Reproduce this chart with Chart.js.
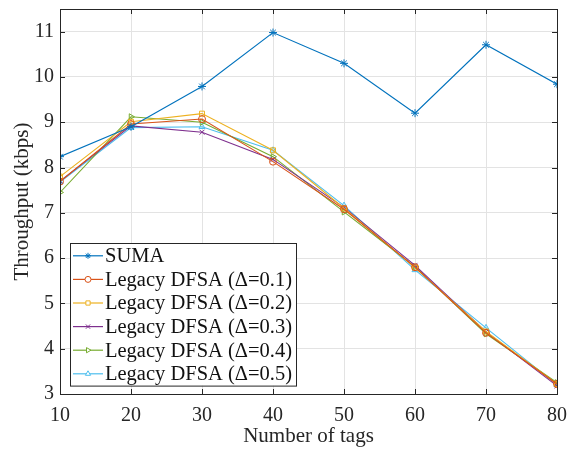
<!DOCTYPE html>
<html>
<head>
<meta charset="utf-8">
<script src="https://cdn.jsdelivr.net/npm/chart.js@4"></script>
<style>
  html, body { margin: 0; padding: 0; background: #fff; }
  #wrap { width: 569px; height: 449px; }
</style>
</head>
<body>
<div id="wrap"><canvas id="chart" width="569" height="449"></canvas></div>
<script>
// data
const tags = [10, 20, 30, 40, 50, 60, 70, 80];
const suma   = [8.24, 8.90, 9.79, 10.98, 10.30, 9.20, 10.71, 9.84];
const dfsa01 = [7.69, 8.96, 9.07, 8.13, 7.08, 5.80, 4.35, 3.22];
const dfsa02 = [7.80, 9.01, 9.19, 8.38, 7.10, 5.79, 4.38, 3.22];
const dfsa03 = [7.70, 8.92, 8.78, 8.18, 7.12, 5.84, 4.37, 3.18];
const dfsa04 = [7.45, 9.12, 9.00, 8.24, 7.02, 5.81, 4.33, 3.25];
const dfsa05 = [7.68, 8.88, 8.90, 8.38, 7.16, 5.74, 4.46, 3.20];
const yTicks = [3, 4, 5, 6, 7, 8, 9, 10, 11];
const xTicks = [10, 20, 30, 40, 50, 60, 70, 80];

const seriesNames = ["SUMA", "Legacy DFSA (\u0394=0.1)", "Legacy DFSA (\u0394=0.2)",
  "Legacy DFSA (\u0394=0.3)", "Legacy DFSA (\u0394=0.4)", "Legacy DFSA (\u0394=0.5)"];
const seriesValues = [suma, dfsa01, dfsa02, dfsa03, dfsa04, dfsa05];
const seriesColors = ["#0072BD", "#D95319", "#EDB120", "#7E2F8E", "#77AC30", "#4DBEEE"];
const seriesMarkers = ["star", "circle", "rect", "crossRot", "triangle", "triangle"];
const markerRotation = [0, 0, 0, 0, 90, 0];

const serif = "'Liberation Serif', 'Times New Roman', serif";

const datasets = seriesValues.map((vals, i) => ({
  label: seriesNames[i],
  data: vals.map((v, j) => ({ x: tags[j], y: v })),
  borderColor: seriesColors[i],
  backgroundColor: "rgba(0,0,0,0)",
  pointBackgroundColor: i === 0 ? seriesColors[i] : "rgba(0,0,0,0)",
  pointBorderColor: seriesColors[i],
  pointStyle: seriesMarkers[i],
  pointRotation: markerRotation[i],
  pointRadius: i === 0 ? 4 : 3.5,
  pointBorderWidth: 1,
  borderWidth: 1.1,
  tension: 0
}));

// box + inside ticks, like a matlab axes
const frame = {
  id: "frame",
  afterDatasetsDraw(chart) {
    const { ctx, chartArea: a, scales } = chart;
    ctx.save();
    ctx.strokeStyle = "#262626";
    ctx.lineWidth = 1;
    ctx.strokeRect(a.left + 0.5, a.top + 0.5, a.right - a.left, a.bottom - a.top);
    ctx.beginPath();
    xTicks.forEach(t => {
      const x = Math.round(scales.x.getPixelForValue(t)) + 0.5;
      ctx.moveTo(x, a.bottom); ctx.lineTo(x, a.bottom - 5);
      ctx.moveTo(x, a.top); ctx.lineTo(x, a.top + 5);
    });
    yTicks.forEach(t => {
      const y = Math.round(scales.y.getPixelForValue(t)) + 0.5;
      ctx.moveTo(a.left, y); ctx.lineTo(a.left + 5, y);
      ctx.moveTo(a.right, y); ctx.lineTo(a.right - 5, y);
    });
    ctx.stroke();
    ctx.restore();
  }
};

// legend box in the lower left corner of the plot
const insideLegend = {
  id: "insideLegend",
  afterDraw(chart) {
    const { ctx, chartArea: a } = chart;
    const x0 = a.left + 10, y0 = 243, w = 226, rowH = 23.6;
    const h = rowH * seriesNames.length + 1;
    ctx.save();
    ctx.fillStyle = "#fff";
    ctx.fillRect(x0, y0, w, h);
    ctx.strokeStyle = "#262626";
    ctx.lineWidth = 1;
    ctx.strokeRect(x0 + 0.5, y0 + 0.5, w, h);
    ctx.font = "20.5px " + serif;
    ctx.textBaseline = "middle";
    seriesNames.forEach((name, i) => {
      const cy = y0 + rowH * (i + 0.5) + 1;
      ctx.strokeStyle = seriesColors[i];
      ctx.lineWidth = 1.2;
      ctx.beginPath();
      ctx.moveTo(x0 + 3, cy); ctx.lineTo(x0 + 33, cy);
      ctx.stroke();
      ctx.lineWidth = 1;
      ctx.fillStyle = i === 0 ? seriesColors[i] : "#fff";
      Chart.helpers.drawPoint(ctx, {
        pointStyle: seriesMarkers[i],
        rotation: markerRotation[i],
        radius: 3,
        borderWidth: 1
      }, x0 + 18, cy);
      ctx.fillStyle = "#111";
      ctx.fillText(name, x0 + 35, cy + 1);
    });
    ctx.restore();
  }
};

new Chart(document.getElementById("chart"), {
  type: "line",
  data: { datasets: datasets },
  options: {
    responsive: false,
    animation: false,
    layout: { padding: { top: 9, right: 12, left: 6, bottom: 0 } },
    plugins: {
      legend: { display: false },
      tooltip: { enabled: false }
    },
    scales: {
      x: {
        type: "linear",
        min: 10,
        max: 80,
        afterBuildTicks: s => { s.ticks = xTicks.map(v => ({ value: v })); },
        afterFit: s => { s.height = 55; s.paddingLeft = 0; s.paddingRight = 0; },
        grid: { color: "#e3e3e3", drawTicks: false },
        border: { display: false },
        ticks: { color: "#262626", font: { family: serif, size: 20 }, padding: 10 },
        title: { display: true, text: "Number of tags", color: "#262626",
                 font: { family: serif, size: 21 }, padding: { top: 3, bottom: 0 } }
      },
      y: {
        min: 3,
        max: 11.5,
        afterBuildTicks: s => { s.ticks = yTicks.map(v => ({ value: v })); },
        afterFit: s => { s.width = 54; s.paddingTop = 0; s.paddingBottom = 0; },
        grid: { color: "#e3e3e3", drawTicks: false },
        border: { display: false },
        ticks: { color: "#262626", font: { family: serif, size: 20 }, padding: 6 },
        title: { display: true, text: "Throughput (kbps)", color: "#262626",
                 font: { family: serif, size: 21 }, padding: { bottom: 0 } }
      }
    }
  },
  plugins: [frame, insideLegend]
});
</script>
</body>
</html>
